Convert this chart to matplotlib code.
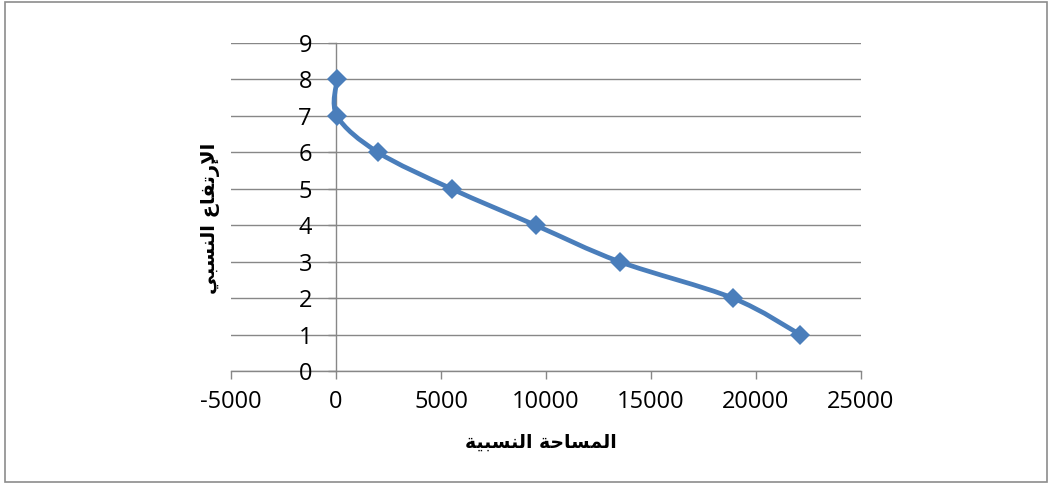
import matplotlib
matplotlib.use("Agg")
import matplotlib.pyplot as plt
from matplotlib.path import Path
from matplotlib.patches import PathPatch, Rectangle

plt.rcParams["axes.unicode_minus"] = False

# Relative area (x) against relative height (y)
area = [50, 50, 2000, 5500, 9500, 13500, 18900, 22100]
height = [8, 7, 6, 5, 4, 3, 2, 1]
x_ticks = [-5000, 0, 5000, 10000, 15000, 20000, 25000]
y_ticks = [0, 1, 2, 3, 4, 5, 6, 7, 8, 9]

# Arabic titles written in presentation forms, visual (left-to-right) order
x_title = ("\uFE94\uFEF4\uFE92\uFEB4\uFEE8\uFEDF\uFE8D" + " " +
           "\uFE94\uFEA3\uFE8E\uFEB4\uFEE4\uFEDF\uFE8D")   # المساحة النسبية
y_title = ("\uFEF2\uFE92\uFEB4\uFEE8\uFEDF\uFE8D" + " " +
           "\uFEC9\uFE8E\uFED4\uFE97\uFEAD\uFEF9\uFE8D")   # الإرتفاع النسبي

LINE = "#4A7EBB"
GRID = "#878787"


def smooth_path(xs, ys):
    """Cubic Bezier through every point (Catmull-Rom style tangents)."""
    pts = list(zip(xs, ys))
    n = len(pts)
    verts = [pts[0]]
    codes = [Path.MOVETO]
    for i in range(n - 1):
        p0 = pts[i - 1] if i > 0 else pts[i]
        p1 = pts[i]
        p2 = pts[i + 1]
        p3 = pts[i + 2] if i + 2 < n else pts[i + 1]
        c1 = (p1[0] + (p2[0] - p0[0]) / 6.0, p1[1] + (p2[1] - p0[1]) / 6.0)
        c2 = (p2[0] - (p3[0] - p1[0]) / 6.0, p2[1] - (p3[1] - p1[1]) / 6.0)
        verts += [c1, c2, p2]
        codes += [Path.CURVE4] * 3
    return Path(verts, codes)


fig = plt.figure(figsize=(10.48, 4.83), dpi=100)
W, H = 1048, 483
ax = fig.add_axes([231 / W, 1 - 371 / H, 630 / W, 328 / H])

ax.set_xlim(-5000, 25000)
ax.set_ylim(0, 9)
ax.set_xticks(x_ticks)
ax.set_yticks(y_ticks)

for y in y_ticks:
    ax.axhline(y, color=GRID, lw=1.0, zorder=1)

ax.spines["top"].set_visible(False)
ax.spines["right"].set_visible(False)
ax.spines["left"].set_position(("data", 0))
for s in ("left", "bottom"):
    ax.spines[s].set_color(GRID)
    ax.spines[s].set_linewidth(1.0)
    ax.spines[s].set_zorder(1.5)

ax.tick_params(axis="x", direction="out", length=5.8, width=1.0, color=GRID,
               pad=8, labelsize=17, labelcolor="black")
ax.tick_params(axis="y", direction="out", length=5.8, width=1.0, color=GRID,
               pad=11.5, labelsize=17, labelcolor="black")
for lab in ax.get_xticklabels() + ax.get_yticklabels():
    lab.set_family("Open Sans")

ax.add_patch(PathPatch(smooth_path(area, height), facecolor="none",
                       edgecolor=LINE, lw=3.4, capstyle="round", zorder=3))
ax.plot(area, height, linestyle="none", marker="D", markersize=9.8,
        color=LINE, markeredgewidth=0, zorder=4)

fig.text(541 / W, 1 - 442 / H, x_title, ha="center", va="center",
         fontsize=13.5, fontweight="bold", family="DejaVu Sans")
fig.text(211 / W, 1 - 218 / H, y_title, ha="center", va="center",
         rotation=90, fontsize=14, fontweight="bold", family="DejaVu Sans")

fig.patches.append(Rectangle((4.5 / W, 1.0 / H), 1042 / W, 480 / H,
                             transform=fig.transFigure, fill=False,
                             edgecolor="#8C8C8C", lw=1.2))

fig.savefig("out.png", dpi=100, facecolor="white")
